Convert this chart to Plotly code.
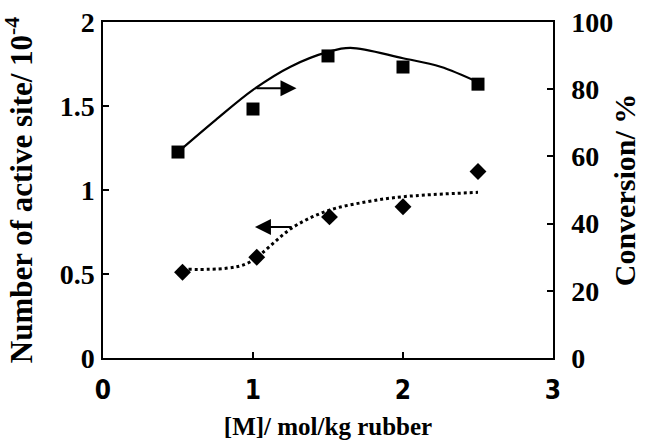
import plotly.graph_objects as go

# Measured data
conc = [0.5, 1.0, 1.5, 2.0, 2.5]                      # [M] mol/kg rubber
conversion = [61.3, 74.1, 89.9, 86.6, 81.5]           # % (right axis, squares)
site_x = [0.53, 1.025, 1.51, 2.0, 2.5]
active_sites = [0.51, 0.60, 0.84, 0.90, 1.11]         # x 10^-4 (left axis, diamonds)

# Trend curves
conv_curve_x = [0.5, 0.75, 1.0, 1.25, 1.5, 1.65, 2.0, 2.25, 2.5]
conv_curve_y = [61.3, 70.8, 79.8, 86.7, 91.1, 92.3, 89.2, 86.7, 82.1]
site_curve_x = [0.57, 0.82, 0.97, 1.27, 1.51, 1.76, 2.0, 2.5]
site_curve_y = [0.528, 0.534, 0.567, 0.78, 0.88, 0.93, 0.96, 0.986]

# Tick labels
x_ticks = [0, 1, 2, 3]
y_ticks = [0, 0.5, 1, 1.5, 2]
y_ticklabels = ["0", "0.5", "1", "1.5", "2"]
y2_ticks = [0, 20, 40, 60, 80, 100]

serif = "Liberation Serif, Times New Roman, serif"
narrow = "Liberation Sans Narrow, DejaVu Sans Condensed, Arial Narrow, Liberation Sans, sans-serif"

fig = go.Figure()
fig.add_trace(go.Scatter(x=conv_curve_x, y=conv_curve_y, mode="lines", yaxis="y2",
                         line=dict(color="black", width=2.2, shape="spline"),
                         hoverinfo="skip"))
fig.add_trace(go.Scatter(x=conc, y=conversion, mode="markers", yaxis="y2",
                         marker=dict(symbol="square", size=13, color="black")))
fig.add_trace(go.Scatter(x=site_curve_x, y=site_curve_y, mode="lines",
                         line=dict(color="black", width=3, dash="3px,3px", shape="spline"),
                         hoverinfo="skip"))
fig.add_trace(go.Scatter(x=site_x, y=active_sites, mode="markers",
                         marker=dict(symbol="diamond", size=13, color="black")))

# Arrows pointing to the relevant axis
fig.add_annotation(x=1.29, y=80.3, ax=1.013, ay=80.3, xref="x", yref="y2",
                   axref="x", ayref="y2", showarrow=True, arrowhead=2,
                   arrowsize=1.6, arrowwidth=2, arrowcolor="black", text="")
fig.add_annotation(x=1.013, y=0.78, ax=1.267, ay=0.78, xref="x", yref="y",
                   axref="x", ayref="y", showarrow=True, arrowhead=2,
                   arrowsize=1.6, arrowwidth=2, arrowcolor="black", text="")

fig.update_layout(
    width=646, height=448,
    margin=dict(l=103, r=93, t=22, b=90),
    paper_bgcolor="white", plot_bgcolor="white",
    showlegend=False,
    xaxis=dict(range=[0, 3], tickvals=x_ticks, ticktext=["<b>%d</b>" % t for t in x_ticks],
               ticks="inside", ticklen=6,
               tickwidth=1.5, tickcolor="black", showline=True, linecolor="black",
               linewidth=1.5, mirror=True, showgrid=False, zeroline=False,
               automargin=False,
               tickfont=dict(family=narrow, size=26, color="black"),
               ticklabelstandoff=8,
               title=dict(text="<b>[M]/ mol/kg rubber</b>",
                          font=dict(family=serif, size=25, color="black"), standoff=14)),
    yaxis=dict(range=[0, 2], tickvals=y_ticks, ticktext=["<b>%s</b>" % t for t in y_ticklabels],
               ticks="inside", ticklen=6, tickwidth=1.5, tickcolor="black",
               showline=True, linecolor="black", linewidth=1.5, showgrid=False,
               zeroline=False, automargin=False, ticklabelstandoff=1,
               tickfont=dict(family=serif, size=28, color="black"),
               title=dict(text="<b>Number of active site/ 10<sup>-4</sup></b>",
                          font=dict(family=serif, size=31, color="black"), standoff=18)),
    yaxis2=dict(range=[0, 100], tickvals=y2_ticks, ticktext=["<b>%d</b>" % t for t in y2_ticks],
                overlaying="y", side="right", ticks="inside", ticklen=6, tickwidth=1.5,
                tickcolor="black", showline=True, linecolor="black", linewidth=1.5,
                showgrid=False, zeroline=False, ticklabelstandoff=11, automargin=False,
                tickfont=dict(family=serif, size=28, color="black"),
                title=dict(text="<b>Conversion/ %</b>",
                           font=dict(family=serif, size=30, color="black"), standoff=2)),
)

fig.write_html("out.html", config={"displayModeBar": False},
               post_script="document.body.style.margin='0';")
